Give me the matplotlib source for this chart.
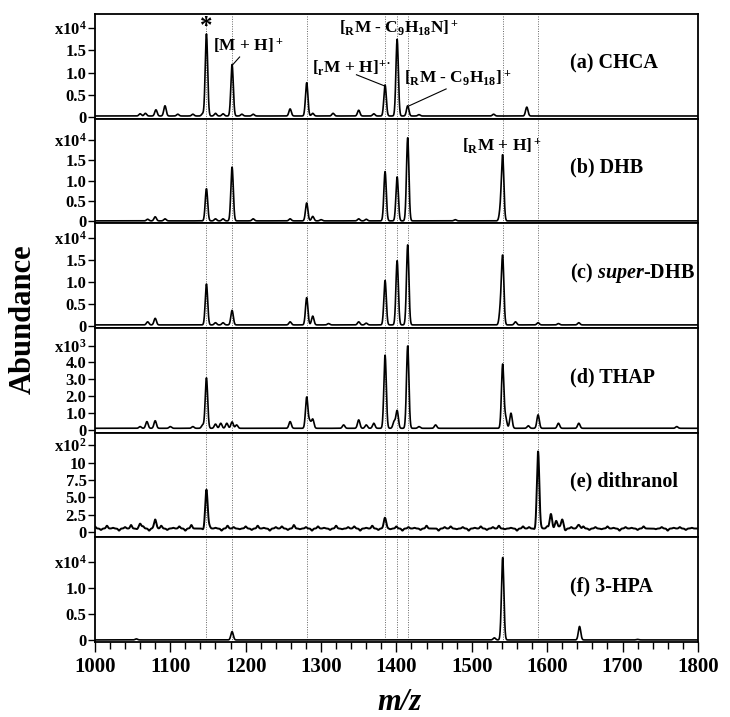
import numpy as np
import matplotlib
matplotlib.use("Agg")
import matplotlib.pyplot as plt
from matplotlib.ticker import MultipleLocator

plt.rcParams['font.family'] = ['Liberation Serif', 'DejaVu Serif']
plt.rcParams['font.weight'] = 'bold'
plt.rcParams['mathtext.fontset'] = 'custom'
plt.rcParams['mathtext.rm'] = 'Liberation Serif:bold'
plt.rcParams['mathtext.bf'] = 'Liberation Serif:bold'
plt.rcParams['mathtext.it'] = 'Liberation Serif:italic'

# peak lists (m/z, abundance in panel units)
a_mz = [1060, 1067, 1081, 1093, 1110, 1130, 1143, 1148, 1160, 1170, 1182, 1195, 1210,
        1259, 1281, 1289, 1316, 1350, 1370, 1385, 1401, 1415, 1430, 1529, 1573]
a_int = [0.05, 0.06, 0.14, 0.23, 0.04, 0.04, 0.05, 1.85, 0.06, 0.05, 1.16, 0.04, 0.04,
         0.16, 0.75, 0.06, 0.06, 0.13, 0.05, 0.70, 1.73, 0.23, 0.03, 0.04, 0.20]

b_mz = [1070, 1080, 1093, 1148, 1160, 1170, 1182, 1210, 1259, 1281, 1289, 1300, 1350,
        1360, 1385, 1401, 1415, 1478, 1538, 1541]
b_int = [0.04, 0.10, 0.05, 0.79, 0.05, 0.05, 1.32, 0.05, 0.05, 0.44, 0.11, 0.03, 0.05,
         0.04, 1.21, 1.08, 2.04, 0.03, 0.25, 1.58]

c_mz = [1070, 1080, 1148, 1160, 1170, 1182, 1259, 1281, 1289, 1310, 1350, 1360, 1385,
        1401, 1415, 1538, 1541, 1558, 1588, 1615, 1642]
c_int = [0.07, 0.15, 0.93, 0.05, 0.05, 0.33, 0.07, 0.62, 0.20, 0.03, 0.07, 0.04, 1.01,
         1.46, 1.82, 0.33, 1.53, 0.07, 0.05, 0.03, 0.05]

d_mz = [1060, 1069, 1080, 1100, 1130, 1143, 1148, 1160, 1167, 1175, 1182, 1188, 1259,
        1281, 1285, 1289, 1330, 1350, 1360, 1370, 1385, 1397, 1401, 1415, 1430, 1452,
        1541, 1545, 1552, 1575, 1588, 1615, 1642, 1772]
d_int = [0.10, 0.40, 0.45, 0.10, 0.10, 0.20, 3.00, 0.25, 0.30, 0.30, 0.38, 0.20, 0.40,
         1.85, 0.40, 0.54, 0.20, 0.50, 0.20, 0.30, 4.35, 0.40, 1.05, 4.90, 0.10, 0.20,
         3.80, 0.60, 0.90, 0.15, 0.80, 0.30, 0.30, 0.10]

e_mz = [1060, 1080, 1148, 1385, 1588, 1605, 1612, 1620, 1642]
e_int = [0.7, 1.1, 5.6, 1.4, 11.1, 2.1, 1.1, 1.3, 0.5]
e_base = 0.5
# hand-read baseline wiggle of the dithranol trace, every 8 m/z from 1000
e_wiggle = [0.3, -0.2, 0.4, 0.1, -0.3, 0.2, 0.5, -0.1, 0.3, -0.3,
            0.2, 0.4, -0.2, 0.1, 0.3, -0.3, 0.5, 0.0, -0.2, 0.3,
            0.1, -0.3, 0.4, 0.2, -0.1, 0.3, -0.2, 0.4, 0.1, -0.3,
            0.2, 0.3, -0.2, 0.5, -0.1, 0.2, -0.3, 0.3, 0.1, -0.2,
            0.4, -0.1, 0.2, 0.3, -0.3, 0.1, 0.4, -0.2, 0.2, -0.1,
            0.3, -0.3, 0.2, 0.1, -0.2, 0.4, 0.0, -0.3, 0.2, 0.3,
            -0.1, 0.2, -0.3, 0.1, 0.3, -0.2, 0.2, 0.4, -0.1, 0.1,
            -0.3, 0.3, 0.2, -0.2, 0.1, 0.3, -0.1, 0.2, -0.3, 0.2,
            0.1, 0.3, -0.2, 0.2, -0.1, 0.3, 0.1, -0.3, 0.2, 0.1,
            -0.2, 0.3, 0.0, -0.1, 0.2, -0.3, 0.1, 0.2, -0.2, 0.1]

f_mz = [1055, 1182, 1530, 1541, 1643, 1720]
f_int = [0.02, 0.16, 0.04, 1.59, 0.26, 0.01]

ref_lines = [1148, 1182, 1281, 1385, 1401, 1415, 1541, 1588]

panel_names = ['(a) CHCA', '(b) DHB', r'(c) $\mathit{super}$-DHB', '(d) THAP',
               '(e) dithranol', '(f) 3-HPA']
ylims = [(-0.04, 2.32), (-0.05, 2.52), (-0.05, 2.33), (-0.18, 6.05), (-0.77, 14.3), (-0.04, 1.98)]
yticks = [[0, 0.5, 1.0, 1.5, 2.0], [0, 0.5, 1.0, 1.5, 2.0], [0, 0.5, 1.0, 1.5, 2.0],
          [0, 1, 2, 3, 4, 5], [0, 2.5, 5, 7.5, 10, 12.5], [0, 0.5, 1.0, 1.5]]
ylabels = [['0', '0.5', '1.0', '1.5', 'x10$^4$'], ['0', '0.5', '1.0', '1.5', 'x10$^4$'],
           ['0', '0.5', '1.0', '1.5', 'x10$^4$'], ['0', '1.0', '2.0', '3.0', '4.0', 'x10$^3$'],
           ['0', '2.5', '5.0', '7.5', '10', 'x10$^2$'], ['0', '0.5', '1.0', 'x10$^4$']]


def spectrum(x, mz, inten, base=0.0, width=1.6):
    y = np.full_like(x, base)
    for c, h in zip(mz, inten):
        y += h * np.exp(-0.5 * ((x - c) / width) ** 2)
    return y


x = np.arange(1000, 1800.01, 0.2)
traces = [spectrum(x, a_mz, a_int, 0.02),
          spectrum(x, b_mz, b_int, 0.01),
          spectrum(x, c_mz, c_int, 0.02),
          spectrum(x, d_mz, d_int, 0.08),
          spectrum(x, e_mz, e_int, e_base) + spectrum(x, np.arange(len(e_wiggle)) * 8 + 1000, e_wiggle, 0.0, 1.2),
          spectrum(x, f_mz, f_int, 0.0)]

fig = plt.figure(figsize=(7.3, 7.17), dpi=100)
axes = fig.subplots(6, 1, sharex=True)
fig.subplots_adjust(left=0.130, right=0.956, top=0.9805, bottom=0.1046, hspace=0)

for i, ax in enumerate(axes):
    for m in ref_lines:
        ax.axvline(m, color='#666666', lw=0.7, ls=(0, (1, 1.5)), zorder=1)
    ax.plot(x, traces[i], color='black', lw=1.4 if i == 4 else 1.2, zorder=2)
    ax.set_ylim(*ylims[i])
    ax.set_xlim(1000, 1800)
    ax.set_yticks(yticks[i])
    ax.set_yticklabels(ylabels[i], fontsize=12, fontweight='bold')
    ax.tick_params(axis='y', direction='out', length=5, width=1, pad=1)
    for s in ax.spines.values():
        s.set_linewidth(1.3)
    ax.text(0.788, 0.53, panel_names[i], transform=ax.transAxes, fontsize=14.5,
            fontweight='bold', va='center', ha='left')
    if i < 5:
        ax.tick_params(axis='x', bottom=False, labelbottom=False)

axb = axes[5]
axb.xaxis.set_major_locator(MultipleLocator(100))
axb.xaxis.set_minor_locator(MultipleLocator(20))
axb.tick_params(axis='x', which='major', direction='out', length=7, width=1, labelsize=15, pad=4)
axb.tick_params(axis='x', which='minor', direction='out', length=5, width=1)
for lab in axb.get_xticklabels():
    lab.set_fontweight('bold')

# annotations on the top panel
ax0 = axes[0]
ax0.text(1148, 2.03, '*', fontsize=18, ha='center', va='center')
ax0.text(1204, 1.61, '[M + H]$^+$', fontsize=12.5, ha='center', va='center')
ax0.plot([1182, 1192], [1.16, 1.35], color='black', lw=0.8)
ax0.text(1341, 1.11, r'[$_\mathrm{r}$M + H]$^{+\bullet}$', fontsize=12.5, ha='center', va='center')
ax0.plot([1347, 1384], [0.95, 0.70], color='black', lw=0.8)
ax0.text(1403, 2.02, r'[$_\mathrm{R}$M - C$_9$H$_{18}$N]$^+$', fontsize=12.5, ha='center', va='center')
ax0.text(1481, 0.89, r'[$_\mathrm{R}$M - C$_9$H$_{18}$]$^+$', fontsize=12.5, ha='center', va='center')
ax0.plot([1466, 1417], [0.63, 0.25], color='black', lw=0.8)

axes[1].text(1540, 1.87, r'[$_\mathrm{R}$M + H]$^+$', fontsize=12.5, ha='center', va='center')

fig.text(0.032, 0.555, 'Abundance', rotation=90, fontsize=22, fontweight='bold',
         ha='center', va='center')
fig.text(0.547, 0.02, 'm/z', fontsize=22, fontweight='bold', fontstyle='italic',
         ha='center', va='center')

fig.savefig('out.png', dpi=100)
